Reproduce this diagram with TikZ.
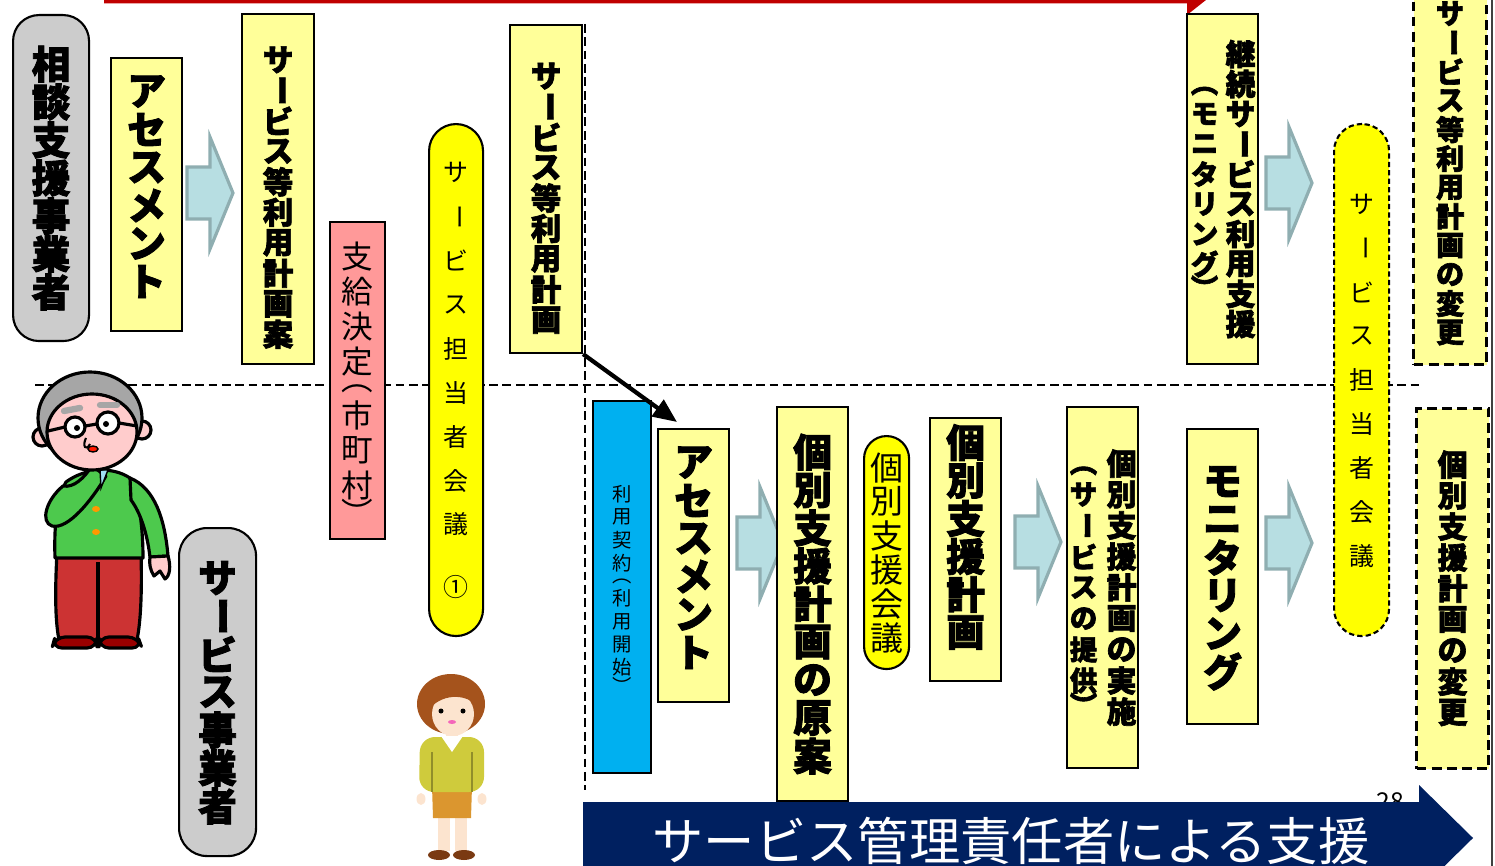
\documentclass[tikz,border=0pt]{standalone}
\usepackage{fontspec}
\setmainfont{Noto Sans CJK JP}[BoldFeatures={FakeBold=2.2}]
\usepackage{graphicx}
\usetikzlibrary{arrows.meta}

\definecolor{ylw}{HTML}{FFFF99}
\definecolor{pillylw}{HTML}{FFFF00}
\definecolor{pinkbox}{HTML}{FF9999}
\definecolor{bluebox}{HTML}{00B0F0}
\definecolor{graybox}{HTML}{CCCCCC}
\definecolor{navy}{HTML}{002060}
\definecolor{redarr}{HTML}{C00000}
\definecolor{arrfill}{HTML}{B7DEE2}
\definecolor{arrline}{HTML}{8FAEB1}
\definecolor{hairgray}{HTML}{A6A6A6}
\definecolor{facepink}{HTML}{FFCCCC}
\definecolor{jacket}{HTML}{4DC94D}
\definecolor{pants}{HTML}{CC3333}
\definecolor{shoered}{HTML}{990000}
\definecolor{btn}{HTML}{FF9900}
\definecolor{collar}{HTML}{9FE0F5}
\definecolor{hairbrown}{HTML}{A5531C}
\definecolor{skin}{HTML}{FCE4CF}
\definecolor{sweater}{HTML}{CFCB3C}
\definecolor{skirt}{HTML}{DB962F}
\definecolor{shoebrown}{HTML}{7A3A12}

% вертикальный текст: по одному знаку в строке
\newlength\vtp
\newcommand\lp{LP}
\newcommand\rp{RP}
\newcommand\hs{HS}
\newcommand\vb{\rotatebox[origin=c]{-90}{ー}}
\makeatletter
\def\vt@end{VTEND}
\newcommand\vt[1]{\raisebox{-.5\height}{\vbox{\vtp=\baselineskip\relax\offinterlineskip\vt@#1\vt@end}}}
\def\vt@#1{\ifx#1\vt@end\else\vt@cell#1\expandafter\vt@\fi}
\def\vt@box#1#2{\vbox to #1{\vss\hbox to\vtp{\hss#2\hss}\vss}}
\def\vt@cell#1{%
  \ifx#1\lp\vt@box{.53\vtp}{︵}\else
  \ifx#1\rp\vt@box{.53\vtp}{︶}\else
  \ifx#1\hs\vbox to .43\vtp{}\else
  \vt@box{\vtp}{#1}\fi\fi\fi}
\makeatother
\newcommand\txtup[2]{\raisebox{0pt}[\height][\dimexpr\depth+#1*2\relax]{#2}}
\newcommand\txtdown[2]{\raisebox{0pt}[\dimexpr\height+#1*2\relax][\depth]{#2}}

\begin{document}
\begin{tikzpicture}[x=0.1mm, y=-0.1mm,
  box/.style={draw, line width=0.6pt, inner sep=0pt, anchor=north west},
  ybox/.style={box, fill=ylw},
  gbox/.style={box, fill=graybox, rounded corners=2.6mm},
  pill/.style={box, fill=pillylw, rounded corners=2.7mm},
  dpill/.style={pill, dash pattern=on 1.5pt off 0.9pt},
  dbox/.style={box, fill=ylw, line width=0.9pt, dash pattern=on 2.8pt off 1.5pt},
  sep/.style={line width=0.6pt, dash pattern=on 2.5pt off 1.3pt},
  blk/.style={fill=arrfill, draw=arrline, line width=0.9pt},
  conn/.style={-{Triangle[length=2.4mm,width=2mm]}, line width=1.2pt},
  oline/.style={line width=0.9pt, line join=round},
  fbig/.style={font=\bfseries\fontsize{11}{3.8mm}\selectfont},
  fmid/.style={font=\bfseries\fontsize{8.7}{3.05mm}\selectfont},
  fcol/.style={font=\bfseries\fontsize{8.5}{3.1mm}\selectfont},
  fchg/.style={font=\bfseries\fontsize{8}{2.9mm}\selectfont},
  freg/.style={font=\fontsize{9}{3.5mm}\selectfont},
  fpill/.style={font=\fontsize{7.1}{4.4mm}\selectfont},
  fsmall/.style={font=\fontsize{5.5}{2.3mm}\selectfont},
  fmeet/.style={font=\fontsize{9.4}{3.4mm}\selectfont},
  barrow/.pic={\draw[blk] (0,-26) -- (23,-26) -- (23,-56) -- (46,0) -- (23,56) -- (23,26) -- (0,26) -- cycle;}]

	\useasboundingbox (0,0) rectangle (1495,866);
	\clip (0,0) rectangle (1495,866);

	\draw[sep] (35,385) -- (1420,385); % граница
	\draw[sep] (585,24) -- (585,790);

	\fill[redarr] (104,-12) -- (1187,-12) -- (1187,-24) -- (1211,-4) -- (1187,15) -- (1187,3.5) -- (104,3.5) -- cycle; % красная стрелка

	% стрелки между шагами
	\pic at (187,193) {barrow};
	\pic at (737,543) {barrow};
	\pic at (1015,542) {barrow};
	\pic at (1266,543) {barrow};
	\pic at (1266,183) {barrow};

	% верхний ряд
	\node[gbox, fbig, minimum width=7.6mm, minimum height=32.6mm] (soudan) at (12,14) {\vt{相談支援事業者}};
	\node[ybox, fbig, minimum width=7.1mm, minimum height=27.3mm] (assess1) at (110,57) {\txtup{0.8mm}{\vt{アセスメント}}};
	\node[ybox, fmid, minimum width=7.2mm, minimum height=35mm] (draftplan) at (241,13) {\txtdown{0.8mm}{\vt{サ\vb ビス等利用計画案}}};
	\node[box, fill=pinkbox, freg, minimum width=5.5mm, minimum height=31.7mm] (decision) at (329,221) {\vt{支給決定\lp 市町村\rp}};
	\node[pill, fpill, minimum width=5.4mm, minimum height=51.2mm] (meet1) at (428,123) {\vt{サ\vb ビス担当者会議\hs ①}};
	\node[ybox, fmid, minimum width=7.2mm, minimum height=32.8mm] (plan) at (509,24) {\txtdown{0.9mm}{\vt{サ\vb ビス等利用計画}}};
	\node[ybox, minimum width=7.1mm, minimum height=35mm] (keizoku) at (1186,13)
		{{\bfseries\fontsize{7.8}{3mm}\selectfont\vt{\lp モニタリング\rp}}\hspace{0.6mm}{\bfseries\fontsize{8.5}{3mm}\selectfont\vt{継続サ\vb ビス利用支援}}};
	\node[dpill, fpill, minimum width=5.5mm, minimum height=51.2mm] (meet3) at (1333,123) {\vt{サ\vb ビス担当者会議}};
	\node[dbox, fchg, minimum width=7.3mm, minimum height=37.3mm] (chgplan) at (1412,-10) {\txtup{0.5mm}{\vt{サ\vb ビス等利用計画の変更}}};

	% нижний ряд
	\node[box, fill=bluebox, fsmall, minimum width=5.8mm, minimum height=37.2mm] (contract) at (592,400) {\vt{利用契約\lp 利用開始\rp}};
	\node[ybox, fbig, minimum width=7.1mm, minimum height=27.3mm] (assess2) at (657,428) {\txtup{0.8mm}{\vt{アセスメント}}};
	\node[ybox, fbig, minimum width=7.1mm, minimum height=39.4mm] (isdraft) at (776,406) {\vt{個別支援計画の原案}};
	\node[pill, fmeet, rounded corners=2.25mm, minimum width=4.5mm, minimum height=23.3mm] (meet2) at (863,435) {\vt{個別支援会議}};
	\node[ybox, fbig, minimum width=7.1mm, minimum height=26.3mm] (isplan) at (929,417) {\txtup{1.2mm}{\vt{個別支援計画}}};
	\node[ybox, fcol, minimum width=7.1mm, minimum height=36.1mm] (execute) at (1066,406)
		{{\fontsize{7.8}{3.1mm}\selectfont\vt{\lp サ\vb ビスの提供\rp}}\hspace{0.7mm}\vt{個別支援計画の実施}};
	\node[ybox, fbig, minimum width=7.1mm, minimum height=29.5mm] (monitor) at (1186,428) {\vt{モニタリング}};
	\node[dbox, fcol, minimum width=7.2mm, minimum height=36mm] (chgis) at (1415,407) {\vt{個別支援計画の変更}};
	\node[gbox, fbig, rounded corners=2.8mm, minimum width=7.7mm, minimum height=32.8mm] (jigyosha) at (178,527) {\vt{サ\vb ビス事業者}};

	\draw[conn] (plan.south east) -- ([xshift=2mm,yshift=0.6mm]assess2.north west);

	% пожилой человек
	\filldraw[fill=pants, oline] (57,552) -- (141,552) .. controls (142,590) and (141,620) .. (137,640) -- (59,640) .. controls (55,620) and (55,590) .. (57,552) -- cycle;
	\draw[oline] (98,562) -- (98,640);
	\filldraw[fill=shoered, oline, rounded corners=1mm] (52,648) -- (55,637) -- (97,637) -- (97,648) -- cycle;
	\filldraw[fill=shoered, oline, rounded corners=1mm] (99,648) -- (99,637) -- (138,637) -- (142,648) -- cycle;
	\filldraw[fill=jacket, oline] (66,482) .. controls (85,468) and (112,466) .. (130,478) .. controls (140,500) and (143,530) .. (143,558) -- (55,558) .. controls (54,530) and (56,500) .. (66,482) -- cycle;
	\filldraw[fill=jacket, oline] (130,478) .. controls (155,488) and (165,520) .. (168,556) -- (150,557) .. controls (147,532) and (140,512) .. (131,500) -- cycle;
	\filldraw[fill=facepink, oline] (150,557) -- (168,556) .. controls (171,566) and (170,576) .. (165,579) -- (160,571) -- (154,576) .. controls (150,570) and (149,563) .. (150,557) -- cycle;
	\filldraw[fill=jacket, oline] (63,486) .. controls (46,500) and (40,522) .. (52,526) .. controls (68,530) and (92,500) .. (106,476) -- (92,466) .. controls (84,478) and (74,488) .. (63,486) -- cycle;
	\filldraw[fill=collar, line width=0.4pt] (100,470) -- (108,470) -- (101,488) -- cycle;
	\fill[btn] (96,509) ellipse (0.4mm and 0.3mm);
	\fill[btn] (96,532) ellipse (0.4mm and 0.3mm);
	\filldraw[fill=facepink, oline] (42,437) circle (0.9mm);
	\filldraw[fill=facepink, oline] (142,430) circle (0.9mm);
	\filldraw[fill=hairgray, oline] (90,418) ellipse (5.2mm and 4.6mm);
	\filldraw[fill=facepink, oline] (92,432) ellipse (4.5mm and 3.8mm);
	\draw[oline] (65,427) -- (48,431);
	\draw[oline] (119,423) -- (137,426);
	\draw[oline] (85,426) -- (97,424);
	\filldraw[fill=white, oline] (75,427) circle (1mm);
	\filldraw[fill=white, oline] (108,423) circle (1.1mm);
	\fill (77,428) circle (0.3mm);
	\fill (106,424) circle (0.3mm);
	\draw[hairgray, line width=1.8pt, line cap=round] (64,411) -- (80,408);
	\draw[hairgray, line width=1.8pt, line cap=round] (100,405) -- (117,405);
	\draw[line width=0.6pt] (86,438) .. controls (82,446) and (86,452) .. (90,444);
	\filldraw[fill=red!80!orange, line width=0.4pt] (93,449) ellipse (0.5mm and 0.3mm);

	% сотрудница
	\fill[hairbrown] (451,704) ellipse (3.4mm and 3mm);
	\fill[skin] (453,714) ellipse (2.1mm and 2.2mm);
	\fill[hairbrown] (430,708) .. controls (432,685) and (470,680) .. (477,706) .. controls (468,695) and (445,692) .. (430,708) -- cycle;
	\fill (441,711) circle (0.25mm);
	\fill (463,711) circle (0.25mm);
	\fill[magenta!60] (452,722) ellipse (0.4mm and 0.2mm);
	\fill[skin] (446,732) rectangle (458,740);
	\fill[skin] (438,816) rectangle (450,851);
	\fill[skin] (455,816) rectangle (467,851);
	\fill[skirt] (432,786) -- (472,786) -- (471,818) -- (433,818) -- cycle;
	\fill[sweater, rounded corners=1.5mm] (420,737) -- (484,737) -- (484,792) -- (419,792) -- cycle;
	\draw[sweater!70!black, line width=0.3pt] (432,752) -- (432,792);
	\draw[sweater!70!black, line width=0.3pt] (472,752) -- (472,792);
	\fill[white] (441,736) -- (463,736) -- (452,752) -- cycle;
	\fill[skin] (421,799) ellipse (0.45mm and 0.6mm);
	\fill[skin] (482,799) ellipse (0.45mm and 0.6mm);
	\fill[shoebrown] (439,855) ellipse (1.1mm and 0.5mm);
	\fill[shoebrown] (464,855) ellipse (1.1mm and 0.5mm);

	% нижняя синяя стрелка
	\node[anchor=base, font=\fontsize{7}{8}\selectfont] (pagenum) at (1390,810) {28};
	\fill[navy] (583,802) -- (1419,802) -- (1419,785) -- (1473,838) -- (1419,891) -- (1419,874) -- (583,874) -- cycle;
	\node[font=\fontsize{14.6}{16}\selectfont, text=white] (mgr) at (1011,841) {サービス管理責任者による支援};

	\draw[black!75, line width=0.5pt] (1492,0) -- (1492,866); % край слайда
\end{tikzpicture}
\end{document}
